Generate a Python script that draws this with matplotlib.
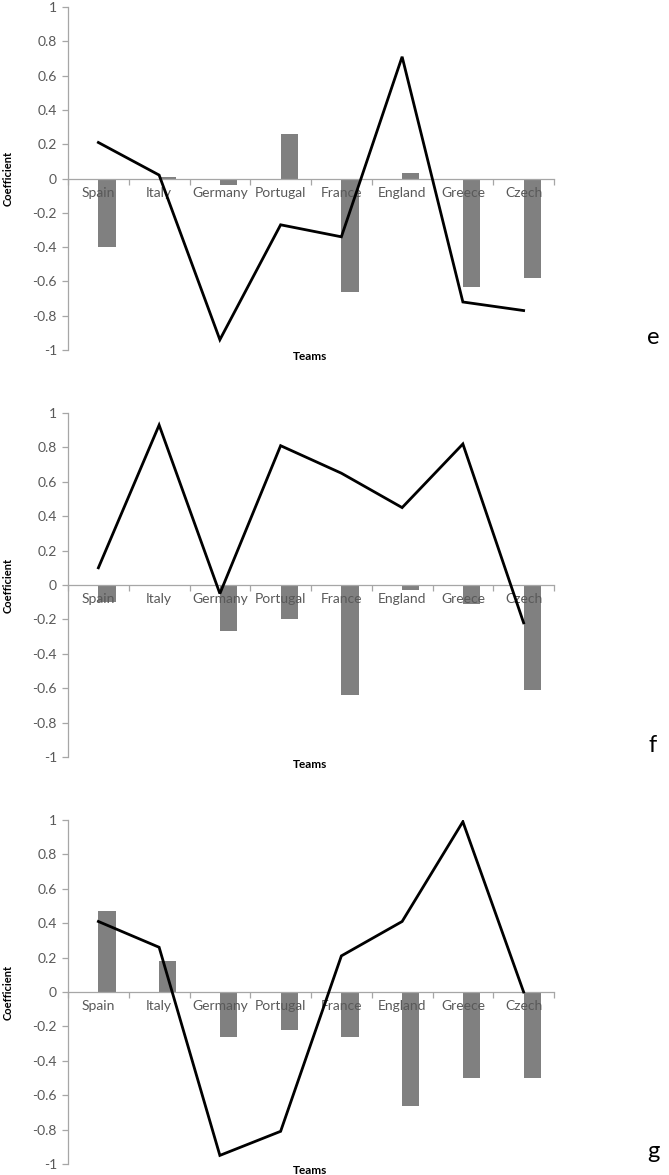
import numpy as np
import matplotlib.pyplot as plt

teams = ["Spain", "Italy", "Germany", "Portugal", "France", "England", "Greece", "Czech"]

# panel e
line_e = [0.21, 0.02, -0.94, -0.27, -0.34, 0.71, -0.72, -0.77]
bars_e = [-0.40, 0.01, -0.04, 0.26, -0.66, 0.03, -0.63, -0.58]
# panel f
line_f = [0.10, 0.93, -0.05, 0.81, 0.65, 0.45, 0.82, -0.22]
bars_f = [-0.10, 0.0, -0.27, -0.20, -0.64, -0.03, -0.11, -0.61]
# panel g
line_g = [0.41, 0.26, -0.95, -0.81, 0.21, 0.41, 0.99, 0.0]
bars_g = [0.47, 0.18, -0.26, -0.22, -0.26, -0.66, -0.50, -0.50]

panel_letters = ["e", "f", "g"]
y_ticks = [-1, -0.8, -0.6, -0.4, -0.2, 0, 0.2, 0.4, 0.6, 0.8, 1]
y_ticklabels = ["-1", "-0.8", "-0.6", "-0.4", "-0.2", "0", "0.2", "0.4", "0.6", "0.8", "1"]

plt.rcParams['font.family'] = ['Lato', 'DejaVu Sans']

W, H = 669, 1175
fig = plt.figure(figsize=(W / 100, H / 100), dpi=100)

axis_col = '#a6a6a6'
text_col = '#595959'
# top and bottom pixel rows of each axes (y = 1 and y = -1)
rows = [(7, 350), (413, 757), (820, 1164)]
left_px, right_px = 68, 554

x = np.arange(len(teams)) + 0.5
bar_w = 1 / 3.5

for (top, bot), lv, bv, letter in zip(rows, [line_e, line_f, line_g],
                                      [bars_e, bars_f, bars_g], panel_letters):
    ax = fig.add_axes([left_px / W, 1 - bot / H, (right_px - left_px) / W, (bot - top) / H])
    ax.set_axisbelow(False)
    ax.bar(x, bv, width=bar_w, align='edge', color='#808080', zorder=2)
    ax.plot(x, lv, color='black', lw=2.0, zorder=3, solid_joinstyle='miter')
    ax.set_xlim(0, len(teams))
    ax.set_ylim(-1, 1)
    ax.spines['top'].set_visible(False)
    ax.spines['right'].set_visible(False)
    ax.spines['bottom'].set_position(('data', 0))
    for s in ['left', 'bottom']:
        ax.spines[s].set_color(axis_col)
        ax.spines[s].set_linewidth(0.9)
    ax.set_yticks(y_ticks)
    ax.set_yticklabels(y_ticklabels)
    ax.tick_params(axis='y', colors=axis_col, labelcolor=text_col, labelsize=10,
                   length=4, width=0.9, pad=4)
    ax.set_xticks(np.arange(len(teams) + 1))
    ax.set_xticklabels([])
    ax.tick_params(axis='x', which='major', colors=axis_col, length=4, width=0.9)
    ax.set_xticks(x, minor=True)
    ax.set_xticklabels(teams, minor=True)
    ax.tick_params(axis='x', which='minor', length=0, labelcolor=text_col,
                   labelsize=10, pad=6)
    ax.patch.set_alpha(0)

    zero_px = (top + bot) / 2
    fig.text(8 / W, 1 - zero_px / H, "Coefficient", rotation=90, ha='center',
             va='center', fontsize=8, fontweight='bold', color='black')
    fig.text(310 / W, 1 - (bot + 7) / H, "Teams", ha='center', va='center',
             fontsize=8.5, fontweight='bold', color='black')
    fig.text(653 / W, 1 - (bot - 12) / H, letter, ha='center', va='center',
             fontsize=17, color='black')

fig.savefig('out.png', dpi=100)
